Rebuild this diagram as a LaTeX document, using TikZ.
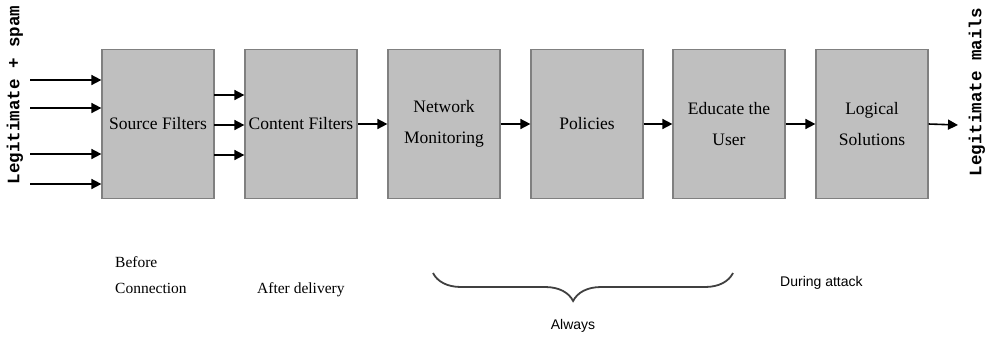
\documentclass[tikz,border=0pt]{standalone}
\usepackage{fontspec}
\setmainfont{Liberation Serif}
\newfontfamily\armono{Liberation Mono}
\newfontfamily\arsans{Liberation Sans}
\usetikzlibrary{arrows.meta,decorations.pathreplacing}
\begin{document}
\begin{tikzpicture}[x=1pt,y=-1pt,
  stage/.style={draw=black!50,line width=1.2pt,fill=black!25,minimum width=112pt,minimum height=149pt,inner sep=0pt,align=center,font=\fontsize{17.5}{31}\selectfont},
  flow/.style={line width=1.6pt,-{Triangle[length=10pt,width=10pt]}},
  sidelabel/.style={rotate=90,font=\armono\bfseries\fontsize{17.5}{18}\selectfont,inner sep=0pt},
  phase/.style={font=\fontsize{15.5}{26}\selectfont,align=left,inner sep=0pt},
  phasesans/.style={font=\arsans\fontsize{14}{16}\selectfont,inner sep=0pt}]
\useasboundingbox (0,0) rectangle (988,338);
\node[stage] (sf) at (158,124) {Source Filters};
\node[stage] (cf) at (301,124) {Content Filters};
\node[stage] (nm) at (444,124) {Network\\Monitoring};
\node[stage] (po) at (587,124) {Policies};
\node[stage] (eu) at (729,124) {Educate the\\User};
\node[stage] (ls) at (872,124) {Logical\\Solutions};
\coordinate (out) at (958,125);
\foreach \y/\n in {80/a,108/b,154/c,184/d}{
  \coordinate (in\n) at (30,\y);
  \draw[flow] (in\n) -- (in\n -| sf.west);
}
\foreach \y/\n in {95/a,125/b,155/c}{
  \coordinate (m\n) at (214,\y);
  \draw[flow] (m\n) -- (m\n -| cf.west);
}
\draw[flow] (cf.east) -- (nm.west);
\draw[flow] (nm.east) -- (po.west);
\draw[flow] (po.east) -- (eu.west);
\draw[flow] (eu.east) -- (ls.west);
\draw[flow] (ls.east) -- (out);
\node[sidelabel] (lin) at (15,95) {Legitimate + spam};
\node[sidelabel] (lout) at (977,92) {Legitimate mails};
\node[phase,anchor=north west] (bc) at (115,256) {Before\\Connection};
\node[phase,anchor=west] (ad) at (257,290) {After delivery};
\coordinate (bl) at (433,273);
\coordinate (br) at (733,273);
\draw[black!75,line width=1.8pt,decorate,decoration={brace,mirror,amplitude=28pt,aspect=0.467}] (bl) -- (br);
\node[phasesans] (al) at (573,326) {Always};
\node[phasesans,anchor=west] (da) at (780,283) {During attack};
\end{tikzpicture}
\end{document}
